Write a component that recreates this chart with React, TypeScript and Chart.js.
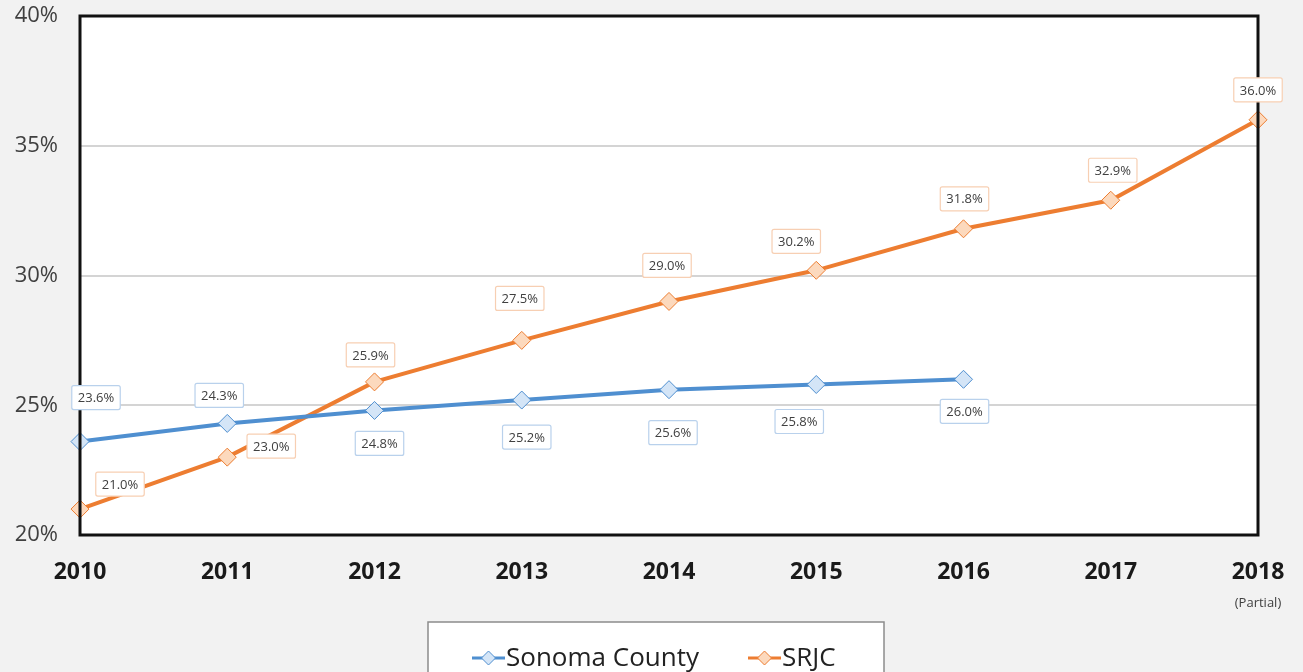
import { useEffect, useRef } from 'react';
import { Chart, registerables } from 'chart.js';
Chart.register(...registerables);

const years = ['2010', '2011', '2012', '2013', '2014', '2015', '2016', '2017', '2018'];
const sonomaCounty = [23.6, 24.3, 24.8, 25.2, 25.6, 25.8, 26.0, null, null];
const srjc = [21.0, 23.0, 25.9, 27.5, 29.0, 30.2, 31.8, 32.9, 36.0];
const yTickValues = [20, 25, 30, 35, 40];
const yearNotes = ['', '', '', '', '', '', '', '', '(Partial)'];
const seriesNames = ['Sonoma County', 'SRJC'];

// label offsets (dx, dy) relative to each point, like Excel's manual placement
const sonomaLabelOffsets = [[16, -44], [-8, -28], [5, 33], [5, 37], [4, 43], [-17, 37], [1, 32]];
const srjcLabelOffsets = [[40, -25], [44, -11], [-4, -27], [-2, -42], [-2, -36], [-20, -29], [1, -30], [2, -30], [0, -30]];

const BLUE = '#4f8fd0';
const BLUE_FILL = '#d4e5f7';
const BLUE_BORDER = '#b9d1ec';
const ORANGE = '#ed7d31';
const ORANGE_FILL = '#fcd9bd';
const ORANGE_BORDER = '#f7cfb3';

const overlayPlugin = {
  id: 'overlay',
  afterDatasetsDraw(chart: any) {
    const ctx = chart.ctx;
    const { left, right, top, bottom } = chart.chartArea;
    // plot border
    ctx.save();
    ctx.strokeStyle = '#111';
    ctx.lineWidth = 3;
    ctx.strokeRect(left, top, right - left, bottom - top);
    ctx.restore();

    // data labels
    const offsetsList = [sonomaLabelOffsets, srjcLabelOffsets];
    const borders = [BLUE_BORDER, ORANGE_BORDER];
    chart.data.datasets.forEach((ds: any, di: number) => {
      const meta = chart.getDatasetMeta(di);
      meta.data.forEach((el: any, i: number) => {
        const v = ds.data[i];
        if (v === null || v === undefined) return;
        const off = offsetsList[di][i] || [0, -30];
        const cx = el.x + off[0];
        const cy = el.y + off[1];
        const text = v.toFixed(1) + '%';
        ctx.save();
        ctx.font = '13px "Open Sans", sans-serif';
        const tw = ctx.measureText(text).width;
        const w = tw + 12;
        const h = 24;
        ctx.fillStyle = '#ffffff';
        ctx.strokeStyle = borders[di];
        ctx.lineWidth = 1.2;
        ctx.beginPath();
        ctx.roundRect(cx - w / 2, cy - h / 2, w, h, 2);
        ctx.fill();
        ctx.stroke();
        ctx.fillStyle = '#404040';
        ctx.textAlign = 'center';
        ctx.textBaseline = 'middle';
        ctx.fillText(text, cx, cy + 1);
        ctx.restore();
      });
    });

    // year notes under x labels
    const xs = chart.scales.x;
    ctx.save();
    ctx.font = '13px "Open Sans", sans-serif';
    ctx.fillStyle = '#404040';
    ctx.textAlign = 'center';
    ctx.textBaseline = 'middle';
    yearNotes.forEach((n, i) => {
      if (!n) return;
      ctx.fillText(n, xs.getPixelForValue(i), 603);
    });
    ctx.restore();

    // legend
    ctx.save();
    const lx = 428, ly = 622, lw = 456, lh = 70;
    ctx.fillStyle = '#ffffff';
    ctx.fillRect(lx, ly, lw, lh);
    ctx.strokeStyle = '#8c8c8c';
    ctx.lineWidth = 1.5;
    ctx.strokeRect(lx, ly, lw, lh);
    const items = [
      { x: 472, color: BLUE, fill: BLUE_FILL, name: seriesNames[0] },
      { x: 748, color: ORANGE, fill: ORANGE_FILL, name: seriesNames[1] },
    ];
    const yc = 658;
    items.forEach((it) => {
      ctx.strokeStyle = it.color;
      ctx.lineWidth = 3;
      ctx.beginPath();
      ctx.moveTo(it.x, yc);
      ctx.lineTo(it.x + 33, yc);
      ctx.stroke();
      const mx = it.x + 16.5;
      const r = 7;
      ctx.beginPath();
      ctx.moveTo(mx, yc - r);
      ctx.lineTo(mx + r, yc);
      ctx.lineTo(mx, yc + r);
      ctx.lineTo(mx - r, yc);
      ctx.closePath();
      ctx.fillStyle = it.fill;
      ctx.fill();
      ctx.lineWidth = 1;
      ctx.stroke();
      ctx.fillStyle = '#222';
      ctx.font = '26px "Open Sans", sans-serif';
      ctx.textAlign = 'left';
      ctx.textBaseline = 'middle';
      ctx.fillText(it.name, it.x + 34, yc + 1);
    });
    ctx.restore();
  },
};

const bgPlugin = {
  id: 'bg',
  beforeDraw(chart: any) {
    const ctx = chart.ctx;
    ctx.save();
    ctx.fillStyle = '#f2f2f2';
    ctx.fillRect(0, 0, chart.width, chart.height);
    const { left, right, top, bottom } = chart.chartArea;
    ctx.fillStyle = '#ffffff';
    ctx.fillRect(left, top, right - left, bottom - top);
    ctx.restore();
  },
};

export default function App() {
  const ref = useRef<HTMLCanvasElement>(null);
  useEffect(() => {
    document.body.style.margin = '0';
    const chart = new Chart(ref.current!, {
      type: 'line',
      data: {
        labels: years,
        datasets: [
          {
            label: seriesNames[0],
            data: sonomaCounty,
            borderColor: BLUE,
            backgroundColor: BLUE_FILL,
            pointBackgroundColor: BLUE_FILL,
            pointBorderColor: BLUE,
            pointBorderWidth: 1,
            borderWidth: 4,
            pointStyle: 'rectRot',
            pointRadius: 9,
            tension: 0,
          },
          {
            label: seriesNames[1],
            data: srjc,
            borderColor: ORANGE,
            backgroundColor: ORANGE_FILL,
            pointBackgroundColor: ORANGE_FILL,
            pointBorderColor: ORANGE,
            pointBorderWidth: 1,
            borderWidth: 4,
            pointStyle: 'rectRot',
            pointRadius: 9,
            tension: 0,
          },
        ],
      },
      options: {
        responsive: false,
        animation: false,
        layout: { padding: { left: 0, right: 45, top: 16, bottom: 0 } },
        plugins: { legend: { display: false }, tooltip: { enabled: false } },
        scales: {
          x: {
            offset: false,
            grid: { display: false, drawTicks: false },
            border: { display: false },
            ticks: {
              autoSkip: false,
              maxRotation: 0,
              padding: 24,
              color: '#1a1a1a',
              font: { family: '"Open Sans", sans-serif', size: 23, weight: 'bold' },
            },
            afterFit(scale: any) {
              scale.height = 672 - 535;
              scale.paddingLeft = 0;
              scale.paddingRight = 0;
              scale.paddingTop = 0;
              scale.paddingBottom = 0;
            },
          },
          y: {
            min: 20,
            max: 40,
            afterBuildTicks(scale: any) {
              scale.ticks = yTickValues.map((v) => ({ value: v }));
            },
            grid: { color: '#d4d4d4', lineWidth: 2, drawTicks: false },
            border: { display: false },
            ticks: {
              padding: 22,
              color: '#404040',
              font: { family: '"Open Sans", sans-serif', size: 22 },
              callback: (v: any) => v + '%',
            },
            afterFit(scale: any) {
              scale.width = 80;
              scale.paddingLeft = 0;
              scale.paddingRight = 0;
              scale.paddingTop = 0;
              scale.paddingBottom = 0;
            },
          },
        },
      },
      plugins: [bgPlugin, overlayPlugin],
    });
    return () => chart.destroy();
  }, []);
  return (
    <div style={{ width: 1303, height: 672, background: '#f2f2f2' }}>
      <canvas ref={ref} width={1303} height={672} style={{ display: 'block' }} />
    </div>
  );
}
